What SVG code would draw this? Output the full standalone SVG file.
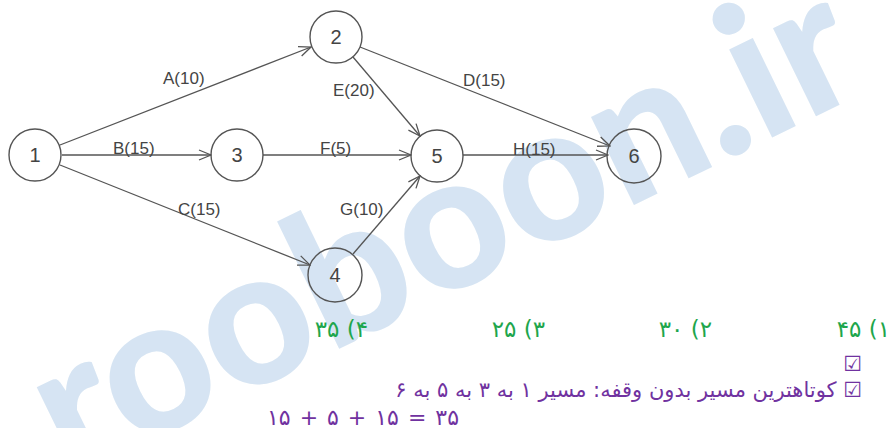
<svg xmlns="http://www.w3.org/2000/svg" width="892" height="428" viewBox="0 0 892 428">
<style>
.node circle{fill:none;stroke:#555;stroke-width:1.4}
.node text{font-family:"Liberation Sans",Arial,sans-serif;font-size:20px;fill:#444;text-anchor:middle}
.edges line{stroke:#555;stroke-width:1.3;marker-end:url(#arr)}
.lbl{font-family:"Liberation Sans",Arial,sans-serif;font-size:17px;fill:#444}
.opt{font-family:"DejaVu Sans",sans-serif;font-size:23px;fill:#1ea64c}
.fa{font-family:"DejaVu Sans",sans-serif;font-size:21px;fill:#7032a0}
.wm{font-family:Lato,"DejaVu Sans",sans-serif;font-weight:900;font-size:190px;fill:#cfe0f1;opacity:0.85}
</style>
<defs>
<marker id="arr" markerUnits="userSpaceOnUse" markerWidth="14" markerHeight="12" viewBox="0 0 14 12" refX="13" refY="6" orient="auto">
<path d="M1,1 L13,6 L1,11" fill="none" stroke="#555" stroke-width="1.3"/>
</marker>
</defs>
<rect width="892" height="428" fill="#fff"/>
<text class="wm" transform="translate(70,480) rotate(-26)">rooboon.ir</text>
<g id="connectors" class="edges">
<line x1="60" y1="145" x2="311" y2="47"/>
<line x1="62" y1="155" x2="211" y2="155"/>
<line x1="60" y1="165" x2="310" y2="265"/>
<line x1="360" y1="47" x2="610" y2="146"/>
<line x1="353" y1="57" x2="420" y2="136"/>
<line x1="263" y1="155" x2="411" y2="155"/>
<line x1="353" y1="254" x2="420" y2="176"/>
<line x1="463" y1="155" x2="608" y2="155"/>
</g>
<g id="edge-labels">
<text class="lbl" x="163" y="84">A(10)</text>
<text class="lbl" x="113" y="154">B(15)</text>
<text class="lbl" x="178" y="215">C(15)</text>
<text class="lbl" x="463" y="86">D(15)</text>
<text class="lbl" x="333" y="96">E(20)</text>
<text class="lbl" x="320" y="154">F(5)</text>
<text class="lbl" x="340" y="215">G(10)</text>
<text class="lbl" x="513" y="155">H(15)</text>
</g>
<g id="n1" class="node"><circle cx="35" cy="155" r="26"/><text x="35" y="162">1</text></g>
<g id="n2" class="node"><circle cx="336" cy="37" r="26"/><text x="336" y="44">2</text></g>
<g id="n3" class="node"><circle cx="237" cy="155" r="26"/><text x="237" y="162">3</text></g>
<g id="n4" class="node"><circle cx="335" cy="275" r="27"/><text x="335" y="282">4</text></g>
<g id="n5" class="node"><circle cx="437" cy="156" r="26"/><text x="437" y="163">5</text></g>
<g id="n6" class="node"><circle cx="634" cy="156" r="27"/><text x="634" y="163">6</text></g>
<g id="options">
<text class="opt" x="890" y="337" direction="rtl" text-anchor="start">۱) ۴۵</text>
<text class="opt" x="712" y="337" direction="rtl" text-anchor="start">۲) ۳۰</text>
<text class="opt" x="545" y="337" direction="rtl" text-anchor="start">۳) ۲۵</text>
<text class="opt" x="368" y="337" direction="rtl" text-anchor="start">۴) ۳۵</text>
</g>
<g id="answer">
<text class="fa" x="862" y="371" direction="rtl" text-anchor="start">☑</text>
<text class="fa" x="862" y="397" direction="rtl" text-anchor="start">☑ کوتاهترین مسیر بدون وقفه: مسیر ۱ به ۳ به ۵ به ۶</text>
<text class="fa" x="267" y="425" style="font-size:22px;word-spacing:2px">۱۵ + ۵ + ۱۵ = ۳۵</text>
</g>
</svg>
